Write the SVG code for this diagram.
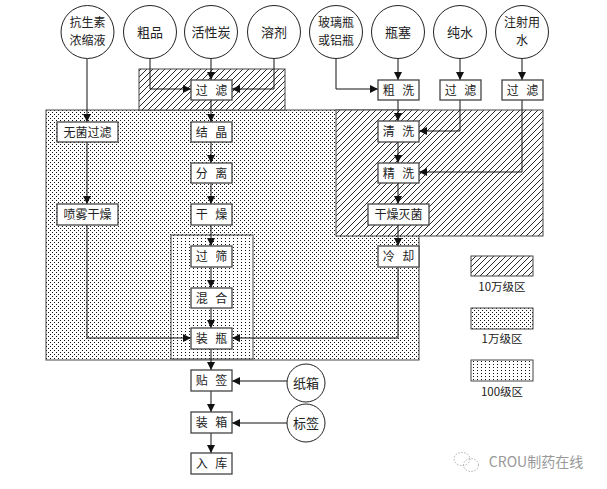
<svg xmlns="http://www.w3.org/2000/svg" width="607" height="489" viewBox="0 0 607 489">
<style>
text{font-family:"Noto Sans CJK SC","Noto Sans",sans-serif;fill:#222;text-anchor:middle}
.b rect{fill:#fff;stroke:#444;stroke-width:1.3}
.b text{font-size:12px;word-spacing:5px}
.c circle{fill:#fff;stroke:#222;stroke-width:1}
.c text{font-size:13px}
.c text.t2{font-size:12px}
.cn path{fill:none;stroke:#111;stroke-width:1;marker-end:url(#ah)}
.z{stroke:#444;stroke-width:1}
.lg{font-size:11.5px}
</style>
<defs>
<marker id="ah" viewBox="0 0 10 10" refX="10" refY="5" markerWidth="8" markerHeight="8" markerUnits="userSpaceOnUse" orient="auto"><path d="M0,0L10,5L0,10z" fill="#111"/></marker>
<pattern id="hatch" patternUnits="userSpaceOnUse" width="6" height="6"><rect width="6" height="6" fill="#fff"/><path d="M-1,1l2,-2M0,6l6,-6M5,7l2,-2" stroke="#111" stroke-width="0.9"/></pattern>
<pattern id="dense" patternUnits="userSpaceOnUse" width="4" height="4"><rect width="4" height="4" fill="#fff"/><rect x="0" y="0" width="1" height="1" fill="#111"/><rect x="2" y="2" width="1" height="1" fill="#111"/></pattern>
<pattern id="sparse" patternUnits="userSpaceOnUse" width="4" height="3"><rect width="4" height="3" fill="#fff"/><rect x="1" y="1" width="1" height="1" fill="#111"/></pattern>
</defs>
<rect width="607" height="489" fill="#fff"/>
<g id="zones">
<rect class="z" x="46" y="110" width="373" height="250" fill="url(#dense)"/>
<rect class="z" x="171" y="235" width="82" height="124" fill="url(#sparse)"/>
<rect class="z" x="139" y="69" width="146" height="41" fill="url(#hatch)"/>
<rect class="z" x="336" y="110" width="207" height="126" fill="url(#hatch)"/>
</g>
<g id="connectors" class="cn">
<path d="M87,59V122"/>
<path d="M150,59V89H191"/>
<path d="M211,59V80"/>
<path d="M274,59V89H232"/>
<path d="M211,100V122"/>
<path d="M211,142V163"/>
<path d="M211,183V204"/>
<path d="M211,225V246"/>
<path d="M211,267V288"/>
<path d="M211,308V328"/>
<path d="M211,349V370"/>
<path d="M211,391V412"/>
<path d="M211,433V453"/>
<path d="M87,142V204"/>
<path d="M87,225V338H191"/>
<path d="M336,59V89H378"/>
<path d="M398,59V80"/>
<path d="M460,59V80"/>
<path d="M522,59V80"/>
<path d="M398,100V121"/>
<path d="M460,100V131H419"/>
<path d="M522,100V172H419"/>
<path d="M398,142V163"/>
<path d="M398,183V204"/>
<path d="M398,225V246"/>
<path d="M398,267V338H232"/>
<path d="M287,381H232"/>
<path d="M287,423H232"/>
</g>
<g class="c">
<g id="n-kss"><circle cx="87.5" cy="32" r="26.5"/><text class="t2" x="87.5" y="27">抗生素</text><text class="t2" x="87.5" y="45">浓缩液</text></g>
<g id="n-cp"><circle cx="150" cy="32" r="26.5"/><text x="150" y="37">粗品</text></g>
<g id="n-hxt"><circle cx="211" cy="32" r="26.5"/><text x="211" y="37">活性炭</text></g>
<g id="n-rj"><circle cx="274" cy="32" r="26.5"/><text x="274" y="37">溶剂</text></g>
<g id="n-blp"><circle cx="336" cy="32" r="26.5"/><text class="t2" x="336" y="27">玻璃瓶</text><text class="t2" x="336" y="45">或铝瓶</text></g>
<g id="n-ps"><circle cx="398" cy="32" r="26.5"/><text x="398" y="37">瓶塞</text></g>
<g id="n-cs"><circle cx="460" cy="32" r="26.5"/><text x="460" y="37">纯水</text></g>
<g id="n-zsys"><circle cx="522" cy="32" r="26.5"/><text class="t2" x="522" y="27">注射用</text><text class="t2" x="522" y="45">水</text></g>
<g id="n-zx"><circle cx="306" cy="383" r="19"/><text x="306" y="388">纸箱</text></g>
<g id="n-bq"><circle cx="306" cy="423" r="19"/><text x="306" y="428">标签</text></g>
</g>
<g class="b">
<g id="b-gl1"><rect x="191" y="80" width="41" height="20"/><text x="211.5" y="94.5">过 滤</text></g>
<g id="b-jj"><rect x="191" y="122" width="41" height="20"/><text x="211.5" y="136.5">结 晶</text></g>
<g id="b-fl"><rect x="191" y="163" width="41" height="20"/><text x="211.5" y="177.5">分 离</text></g>
<g id="b-gz"><rect x="191" y="204" width="41" height="21"/><text x="211.5" y="219">干 燥</text></g>
<g id="b-gs"><rect x="191" y="246" width="41" height="21"/><text x="211.5" y="261">过 筛</text></g>
<g id="b-hh"><rect x="191" y="288" width="41" height="20"/><text x="211.5" y="302.5">混 合</text></g>
<g id="b-zp"><rect x="191" y="328" width="41" height="21"/><text x="211.5" y="343">装 瓶</text></g>
<g id="b-tq"><rect x="191" y="370" width="41" height="21"/><text x="211.5" y="385">贴 签</text></g>
<g id="b-zx"><rect x="191" y="412" width="41" height="21"/><text x="211.5" y="427">装 箱</text></g>
<g id="b-rk"><rect x="191" y="453" width="41" height="21"/><text x="211.5" y="468">入 库</text></g>
<g id="b-wjgl"><rect x="57" y="122" width="61" height="20"/><text x="87.5" y="136.5">无菌过滤</text></g>
<g id="b-pwgz"><rect x="57" y="204" width="61" height="21"/><text x="87.5" y="219">喷雾干燥</text></g>
<g id="b-cx"><rect x="378" y="80" width="41" height="20"/><text x="398.5" y="94.5">粗 洗</text></g>
<g id="b-gl2"><rect x="440" y="80" width="41" height="20"/><text x="460.5" y="94.5">过 滤</text></g>
<g id="b-gl3"><rect x="502" y="80" width="41" height="20"/><text x="522.5" y="94.5">过 滤</text></g>
<g id="b-qx"><rect x="378" y="121" width="41" height="21"/><text x="398.5" y="136">清 洗</text></g>
<g id="b-jx"><rect x="378" y="163" width="41" height="20"/><text x="398.5" y="177.5">精 洗</text></g>
<g id="b-gzmj"><rect x="368" y="204" width="61" height="21"/><text x="398.5" y="219">干燥灭菌</text></g>
<g id="b-lq"><rect x="378" y="246" width="41" height="21"/><text x="398.5" y="261">冷 却</text></g>
</g>
<g id="legend">
<rect class="z" x="471" y="256" width="62" height="20" fill="url(#hatch)"/>
<text class="lg" x="502" y="291">10万级区</text>
<rect class="z" x="471" y="308" width="62" height="21" fill="url(#dense)"/>
<text class="lg" x="502" y="343">1万级区</text>
<rect class="z" x="471" y="360" width="62" height="21" fill="url(#sparse)"/>
<text class="lg" x="502" y="396">100级区</text>
</g>
<g id="watermark" fill="none" stroke="#999" stroke-width="0.8" stroke-dasharray="1.5,1.5">
<ellipse cx="462" cy="459" rx="8" ry="6.5"/>
<ellipse cx="471" cy="465" rx="7.5" ry="6.5"/>
</g>
<text x="536" y="467" style="font-size:14px;fill:#999">CROU制药在线</text>
</svg>
